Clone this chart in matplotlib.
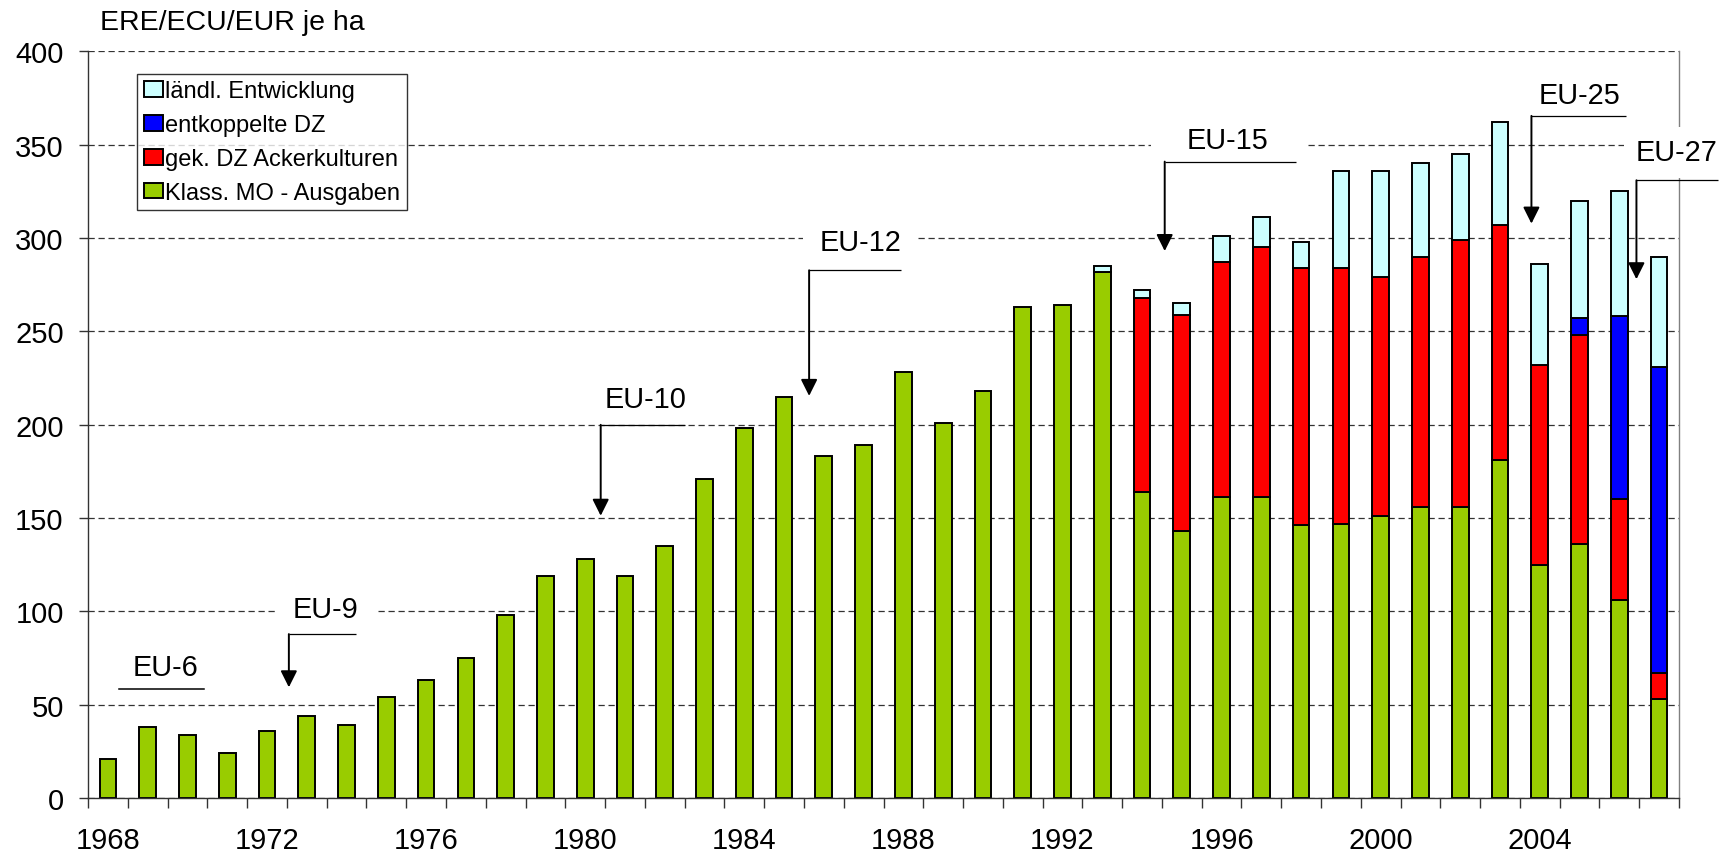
import numpy as np
import matplotlib
matplotlib.use('Agg')
import matplotlib.pyplot as plt

plt.rcParams['font.family'] = ['Liberation Sans', 'DejaVu Sans']

# ---- data -------------------------------------------------------------
years = list(range(1968, 2008))
klass_mo = [21, 38, 34, 24, 36, 44, 39, 54, 63, 75, 98, 119, 128, 119, 135, 171,
            198, 215, 183, 189, 228, 201, 218, 263, 264, 282, 164, 143, 161, 161,
            146, 147, 151, 156, 156, 181, 125, 136, 106, 53]
gek_dz = [0] * 26 + [104, 116, 126, 134, 138, 137, 128, 134, 143, 126, 107, 112, 54, 14]
entkoppelt = [0] * 37 + [9, 98, 164]
laendl = [0] * 25 + [3, 4, 6, 14, 16, 14, 52, 57, 50, 46, 55, 54, 63, 67, 59]

series_names = ['Klass. MO - Ausgaben', 'gek. DZ Ackerkulturen',
                'entkoppelte DZ', 'ländl. Entwicklung']
series_vals = [klass_mo, gek_dz, entkoppelt, laendl]
series_colors = ['#99CC00', '#FF0000', '#0000FF', '#CCFFFF']

y_ticks = [0, 50, 100, 150, 200, 250, 300, 350, 400]
x_label_years = [1968, 1972, 1976, 1980, 1984, 1988, 1992, 1996, 2000, 2004]

# enlargement annotations: label, text x/y, arrow x, line y, arrow tip y, line end x, box pad
eras = [
    ('EU-9', 5.48, 101.2, 4.55, 87.8, 59.3, 6.25, 0.62),
    ('EU-10', 13.53, 213.7, 12.39, 199.9, 151.2, 14.51, 0.3),
    ('EU-12', 18.92, 297.6, 17.63, 282.7, 215.4, 19.93, 0.58),
    ('EU-15', 28.16, 352.5, 26.57, 340.9, 293.0, 29.88, 1.25),
    ('EU-25', 37.0, 376.4, 35.79, 365.4, 307.7, 38.16, 0.3),
    ('EU-27', 39.43, 345.8, 38.43, 330.9, 277.9, 40.47, 0.4),
]

# ---- figure -----------------------------------------------------------
W, H = 1724, 854
fig = plt.figure(figsize=(W / 100, H / 100), dpi=100)
ax = fig.add_axes([88 / W, 1 - 799 / H, (1679 - 88) / W, (799 - 52.3) / H])

x = np.arange(len(years))
bottom = np.zeros(len(years))
handles = []
for name, vals, col in zip(series_names, series_vals, series_colors):
    v = np.array(vals, dtype=float)
    m = v > 0
    bc = ax.bar(x[m], v[m], bottom=bottom[m], width=0.42, color=col,
                edgecolor='black', linewidth=1.4, label=name, zorder=2)
    handles.append(bc)
    bottom += v

ax.set_xlim(-0.5, len(years) - 0.5)
ax.set_ylim(0, 400)
ax.set_yticks(y_ticks)
ax.tick_params(axis='y', labelsize=21, length=6.5, width=1, pad=11, color='0.2')

lab_pos = [years.index(yv) for yv in x_label_years]
ax.set_xticks(lab_pos)
ax.set_xticklabels([str(yv) for yv in x_label_years])
ax.tick_params(axis='x', which='major', labelsize=21, length=0, pad=20)
ax.set_xticks(np.arange(-0.5, len(years), 1), minor=True)
ax.tick_params(axis='x', which='minor', length=7, width=1, color='0.2')

ax.yaxis.grid(True, linestyle=(0, (5, 3)), color='0.2', linewidth=0.9)
ax.set_axisbelow(True)
ax.spines['top'].set_visible(False)
ax.spines['left'].set_color('0.2')
ax.spines['bottom'].set_color('0.2')
ax.spines['right'].set_color('0.5')
for s in ax.spines.values():
    s.set_linewidth(1)

# legend
leg = ax.legend(handles[::-1], series_names[::-1], loc='upper left',
                bbox_to_anchor=(0.0308, 0.970), borderaxespad=0, fontsize=17,
                frameon=True, fancybox=False, edgecolor='black',
                handlelength=0.8, handleheight=0.65, handletextpad=0.12,
                labelspacing=0.5, borderpad=0.28)
leg.get_frame().set_linewidth(1)
leg.set_zorder(6)

# EU-6 label with underline
ax.text(1.44, 70.3, 'EU-6', ha='center', va='center', fontsize=20.8, zorder=5)
ax.plot([0.28, 2.41], [58.5, 58.5], color='black', lw=1.1, zorder=5)

for lab, tx, ty, axx, ly, tip, lend, pad in eras:
    ax.text(tx, ty, lab, ha='center', va='center', fontsize=20.8, zorder=4,
            clip_on=False,
            bbox=dict(boxstyle='square,pad=%s' % pad, facecolor='white',
                      edgecolor='none'))
    ax.plot([axx, lend], [ly, ly], color='black', lw=0.9, zorder=5, clip_on=False,
            solid_capstyle='butt')
    ax.annotate('', xy=(axx, tip), xytext=(axx, ly),
                arrowprops=dict(arrowstyle='-|>,head_length=0.5,head_width=0.25',
                                mutation_scale=20, lw=1.4, color='black',
                                shrinkA=0, shrinkB=0),
                zorder=5, annotation_clip=False)

fig.text(100 / W, 1 - 23.5 / H, 'ERE/ECU/EUR je ha', fontsize=20.5,
         ha='left', va='center')

fig.savefig('out.png', dpi=100, facecolor='white')
